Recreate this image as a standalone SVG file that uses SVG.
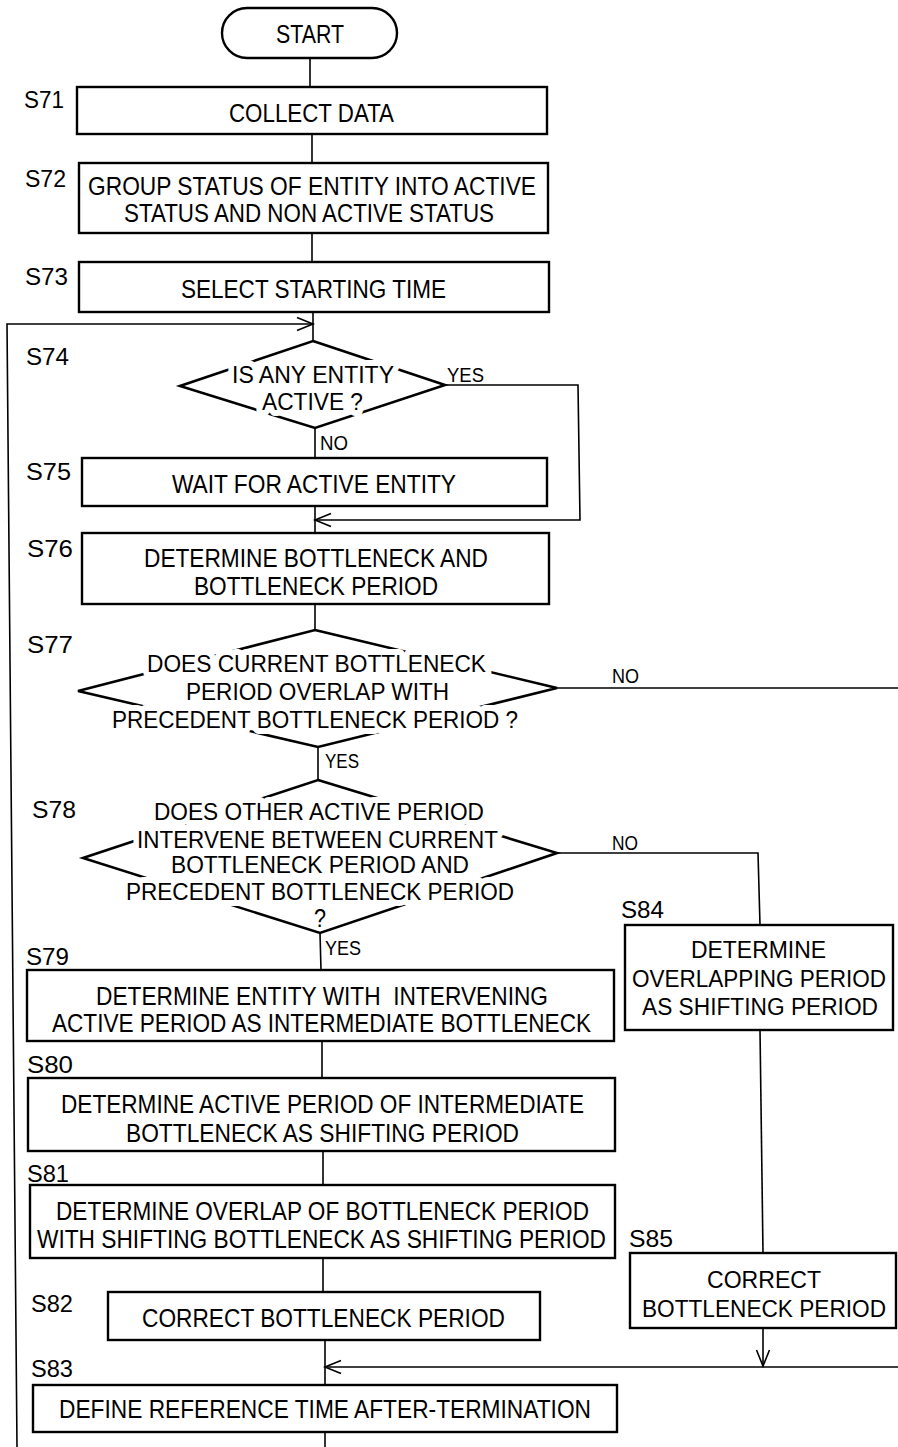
<svg xmlns="http://www.w3.org/2000/svg" width="898" height="1447" viewBox="0 0 898 1447">
<defs>
<style>
.bx{fill:none;stroke:#000;stroke-width:2.4}
.dm{fill:none;stroke:#000;stroke-width:2.6;stroke-linejoin:miter}
.cn{fill:none;stroke:#000;stroke-width:1.6}
text{font-family:"Liberation Sans",Arial,sans-serif;fill:#000}
.t{font-size:25px}
.dt{font-size:24px;stroke:#fff;stroke-width:12;stroke-linejoin:round;paint-order:stroke fill}
.lb{font-size:23px}
.yn{font-size:20px}
.rt{font-size:23px}
</style>
<marker id="ar" markerUnits="userSpaceOnUse" markerWidth="20" markerHeight="18" refX="17" refY="8" orient="auto">
<path d="M1,1.5 L17,8 L1,14.5" fill="none" stroke="#000" stroke-width="1.6"/>
</marker>
</defs>
<rect width="898" height="1447" fill="#fff"/>

<g id="connectors">
<line class="cn" x1="310" y1="58" x2="310" y2="87"/>
<line class="cn" x1="312" y1="134" x2="312" y2="163"/>
<line class="cn" x1="312" y1="233" x2="312" y2="262"/>
<line class="cn" x1="313" y1="312" x2="313" y2="341"/>
<polyline class="cn" points="17,1447 7,324 313,324" marker-end="url(#ar)"/>
<line class="cn" x1="315" y1="428" x2="315" y2="458"/>
<polyline class="cn" points="445,385 578,385 580,520 315,520" marker-end="url(#ar)"/>
<line class="cn" x1="315" y1="506" x2="315" y2="533"/>
<line class="cn" x1="315" y1="604" x2="315" y2="630"/>
<line class="cn" x1="557" y1="688" x2="898" y2="688"/>
<line class="cn" x1="318" y1="747" x2="318" y2="780"/>
<polyline class="cn" points="557,853 758,853 760,925"/>
<line class="cn" x1="320" y1="933" x2="321" y2="970"/>
<line class="cn" x1="322" y1="1041" x2="322" y2="1078"/>
<line class="cn" x1="323" y1="1151" x2="323" y2="1185"/>
<line class="cn" x1="323" y1="1258" x2="323" y2="1292"/>
<line class="cn" x1="325" y1="1340" x2="325" y2="1385"/>
<line class="cn" x1="898" y1="1367" x2="325" y2="1367" marker-end="url(#ar)"/>
<line class="cn" x1="760" y1="1030" x2="763" y2="1253"/>
<line class="cn" x1="763" y1="1328" x2="763" y2="1366" marker-end="url(#ar)"/>
<line class="cn" x1="325" y1="1432" x2="325" y2="1447"/>
<text class="yn" x="447" y="382" textLength="37" lengthAdjust="spacingAndGlyphs">YES</text>
<text class="yn" x="320" y="450" textLength="28" lengthAdjust="spacingAndGlyphs">NO</text>
<text class="yn" x="612" y="683" textLength="27" lengthAdjust="spacingAndGlyphs">NO</text>
<text class="yn" x="325" y="768" textLength="34" lengthAdjust="spacingAndGlyphs">YES</text>
<text class="yn" x="612" y="850" textLength="26" lengthAdjust="spacingAndGlyphs">NO</text>
<text class="yn" x="325" y="955" textLength="36" lengthAdjust="spacingAndGlyphs">YES</text>
</g>

<g id="start">
<rect class="bx" x="222" y="8" width="175" height="50" rx="25" ry="25"/>
<text class="t" x="276" y="43" textLength="68" lengthAdjust="spacingAndGlyphs">START</text>
</g>

<g id="S71">
<text class="lb" x="24" y="108" textLength="40" lengthAdjust="spacingAndGlyphs">S71</text>
<rect class="bx" x="77" y="87" width="470" height="47"/>
<text class="t" x="229" y="122" textLength="165" lengthAdjust="spacingAndGlyphs">COLLECT DATA</text>
</g>

<g id="S72">
<text class="lb" x="25" y="187" textLength="41" lengthAdjust="spacingAndGlyphs">S72</text>
<rect class="bx" x="79" y="163" width="469" height="70"/>
<text class="t" x="88" y="195" textLength="448" lengthAdjust="spacingAndGlyphs">GROUP STATUS OF ENTITY INTO ACTIVE</text>
<text class="t" x="124" y="222" textLength="370" lengthAdjust="spacingAndGlyphs">STATUS AND NON ACTIVE STATUS</text>
</g>

<g id="S73">
<text class="lb" x="25" y="285" textLength="43" lengthAdjust="spacingAndGlyphs">S73</text>
<rect class="bx" x="79" y="262" width="470" height="50"/>
<text class="t" x="181" y="298" textLength="265" lengthAdjust="spacingAndGlyphs">SELECT STARTING TIME</text>
</g>

<g id="S74">
<text class="lb" x="26" y="365" textLength="43" lengthAdjust="spacingAndGlyphs">S74</text>
<polygon class="dm" points="313,341 445,385 315,428 180,386"/>
<text class="dt" x="232" y="383" textLength="162" lengthAdjust="spacingAndGlyphs">IS ANY ENTITY</text>
<text class="dt" x="262" y="410" textLength="101" lengthAdjust="spacingAndGlyphs">ACTIVE ?</text>
</g>

<g id="S75">
<text class="lb" x="26" y="480" textLength="45" lengthAdjust="spacingAndGlyphs">S75</text>
<rect class="bx" x="82" y="458" width="465" height="48"/>
<text class="t" x="172" y="493" textLength="284" lengthAdjust="spacingAndGlyphs">WAIT FOR ACTIVE ENTITY</text>
</g>

<g id="S76">
<text class="lb" x="27" y="557" textLength="46" lengthAdjust="spacingAndGlyphs">S76</text>
<rect class="bx" x="82" y="533" width="467" height="71"/>
<text class="t" x="144" y="567" textLength="344" lengthAdjust="spacingAndGlyphs">DETERMINE BOTTLENECK AND</text>
<text class="t" x="194" y="595" textLength="244" lengthAdjust="spacingAndGlyphs">BOTTLENECK PERIOD</text>
</g>

<g id="S77">
<text class="lb" x="27" y="653" textLength="46" lengthAdjust="spacingAndGlyphs">S77</text>
<polygon class="dm" points="315,630 557,688 318,747 78,691"/>
<text class="dt" x="147" y="672" textLength="339" lengthAdjust="spacingAndGlyphs">DOES CURRENT BOTTLENECK</text>
<text class="dt" x="186" y="700" textLength="263" lengthAdjust="spacingAndGlyphs">PERIOD OVERLAP WITH</text>
<text class="dt" x="112" y="728" textLength="406" lengthAdjust="spacingAndGlyphs">PRECEDENT BOTTLENECK PERIOD ?</text>
</g>

<g id="S78">
<text class="lb" x="32" y="818" textLength="44" lengthAdjust="spacingAndGlyphs">S78</text>
<polygon class="dm" points="318,780 557,853 320,933 83,858"/>
<text class="dt" x="154" y="820" textLength="330" lengthAdjust="spacingAndGlyphs">DOES OTHER ACTIVE PERIOD</text>
<text class="dt" x="137" y="848" textLength="361" lengthAdjust="spacingAndGlyphs">INTERVENE BETWEEN CURRENT</text>
<text class="dt" x="171" y="873" textLength="298" lengthAdjust="spacingAndGlyphs">BOTTLENECK PERIOD AND</text>
<text class="dt" x="126" y="900" textLength="388" lengthAdjust="spacingAndGlyphs">PRECEDENT BOTTLENECK PERIOD</text>
<text class="t" x="314" y="927" textLength="12" lengthAdjust="spacingAndGlyphs">?</text>
</g>

<g id="S79">
<text class="lb" x="26" y="965" textLength="43" lengthAdjust="spacingAndGlyphs">S79</text>
<rect class="bx" x="27" y="970" width="587" height="71"/>
<text class="t" x="96" y="1005" textLength="452" lengthAdjust="spacingAndGlyphs" xml:space="preserve">DETERMINE ENTITY WITH  INTERVENING</text>
<text class="t" x="52" y="1032" textLength="539" lengthAdjust="spacingAndGlyphs">ACTIVE PERIOD AS INTERMEDIATE BOTTLENECK</text>
</g>

<g id="S80">
<text class="lb" x="27" y="1073" textLength="46" lengthAdjust="spacingAndGlyphs">S80</text>
<rect class="bx" x="28" y="1078" width="587" height="73"/>
<text class="t" x="61" y="1113" textLength="523" lengthAdjust="spacingAndGlyphs">DETERMINE ACTIVE PERIOD OF INTERMEDIATE</text>
<text class="t" x="126" y="1142" textLength="393" lengthAdjust="spacingAndGlyphs">BOTTLENECK AS SHIFTING PERIOD</text>
</g>

<g id="S81">
<text class="lb" x="27" y="1182" textLength="42" lengthAdjust="spacingAndGlyphs">S81</text>
<rect class="bx" x="30" y="1185" width="585" height="73"/>
<text class="t" x="56" y="1220" textLength="533" lengthAdjust="spacingAndGlyphs">DETERMINE OVERLAP OF BOTTLENECK PERIOD</text>
<text class="t" x="37" y="1248" textLength="569" lengthAdjust="spacingAndGlyphs">WITH SHIFTING BOTTLENECK AS SHIFTING PERIOD</text>
</g>

<g id="S82">
<text class="lb" x="31" y="1312" textLength="42" lengthAdjust="spacingAndGlyphs">S82</text>
<rect class="bx" x="108" y="1292" width="432" height="48"/>
<text class="t" x="142" y="1327" textLength="363" lengthAdjust="spacingAndGlyphs">CORRECT BOTTLENECK PERIOD</text>
</g>

<g id="S83">
<text class="lb" x="31" y="1377" textLength="42" lengthAdjust="spacingAndGlyphs">S83</text>
<rect class="bx" x="33" y="1385" width="584" height="47"/>
<text class="t" x="59" y="1418" textLength="532" lengthAdjust="spacingAndGlyphs">DEFINE REFERENCE TIME AFTER-TERMINATION</text>
</g>

<g id="S84">
<text class="lb" x="621" y="918" textLength="43" lengthAdjust="spacingAndGlyphs">S84</text>
<rect class="bx" x="625" y="925" width="268" height="105"/>
<text class="rt" x="691" y="958" textLength="135" lengthAdjust="spacingAndGlyphs">DETERMINE</text>
<text class="rt" x="632" y="987" textLength="254" lengthAdjust="spacingAndGlyphs">OVERLAPPING PERIOD</text>
<text class="rt" x="642" y="1015" textLength="236" lengthAdjust="spacingAndGlyphs">AS SHIFTING PERIOD</text>
</g>

<g id="S85">
<text class="lb" x="629" y="1247" textLength="44" lengthAdjust="spacingAndGlyphs">S85</text>
<rect class="bx" x="630" y="1253" width="266" height="75"/>
<text class="rt" x="707" y="1288" textLength="114" lengthAdjust="spacingAndGlyphs">CORRECT</text>
<text class="rt" x="642" y="1317" textLength="244" lengthAdjust="spacingAndGlyphs">BOTTLENECK PERIOD</text>
</g>
</svg>
